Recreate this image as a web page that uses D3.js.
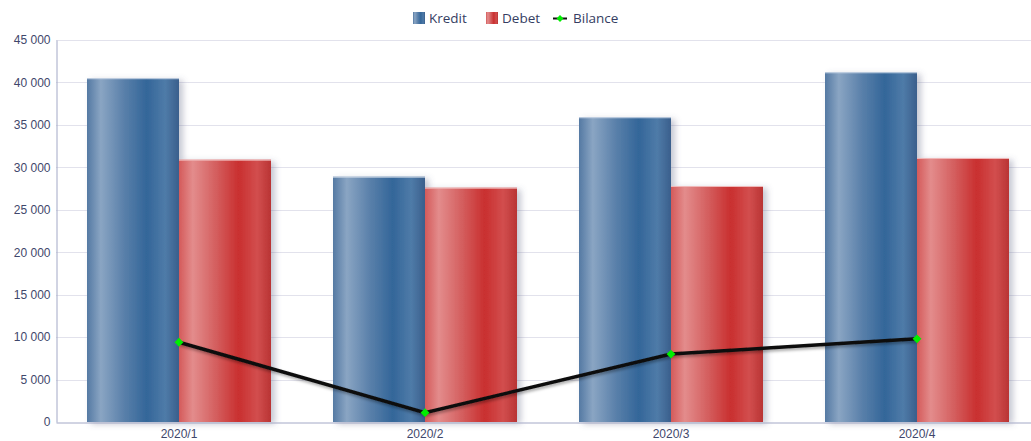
<!DOCTYPE html>
<html>
<head>
<meta charset="utf-8">
<script src="https://cdn.jsdelivr.net/npm/d3@7"></script>
<style>
  body { margin: 0; background: #fff; }
  svg { display: block; font-family: "Open Sans", "Noto Sans", sans-serif; }
  .tick text { fill: #3f476b; font-size: 12px; }
  .legend text { fill: #353d62; font-size: 13.5px; }
</style>
</head>
<body>
<svg width="1031" height="441"></svg>
<script>
'use strict';

const categories = ["2020/1", "2020/2", "2020/3", "2020/4"];
const kredit = [40500, 28900, 35900, 41200];
const debet = [30900, 27600, 27800, 31100];
const bilance = [9400, 1100, 8000, 9800];
const yTicks = [0, 5000, 10000, 15000, 20000, 25000, 30000, 35000, 40000, 45000];

const svg = d3.select('svg');
const margin = {top: 40, left: 56, bottom: 422, right: 1040};

const x = d3.scaleBand().domain(categories).range([margin.left, margin.right]);
const y = d3.scaleLinear().domain([0, 45000]).range([margin.bottom, margin.top]);

const fmt = v => d3.format(",")(v).replace(/,/g, " ");

const defs = svg.append('defs');

// cylinder-like horizontal gradients
function addGradient(id, stops) {
  const g = defs.append('linearGradient').attr('id', id)
    .attr('x1', 0).attr('x2', 1).attr('y1', 0).attr('y2', 0);
  stops.forEach(([o, c]) => g.append('stop').attr('offset', o).attr('stop-color', c));
}
addGradient('gradBlue', [[0, '#5479a3'], [0.15, '#8aa5c3'], [0.4, '#5a80aa'], [0.65, '#336699'], [0.85, '#4f7ba8'], [1, '#3a5f8c']]);
addGradient('gradRed', [[0, '#d45a5a'], [0.15, '#e38c8c'], [0.4, '#d45f5f'], [0.65, '#c92f2f'], [0.85, '#d24e4e'], [1, '#b93434']]);

const shadow = defs.append('filter').attr('id', 'shadow')
  .attr('x', '-20%').attr('y', '-20%').attr('width', '160%').attr('height', '140%');
shadow.append('feDropShadow').attr('dx', 4).attr('dy', 2).attr('stdDeviation', 3)
  .attr('flood-color', '#5a6080').attr('flood-opacity', 0.35);

const lineShadow = defs.append('filter').attr('id', 'lineShadow')
  .attr('x', '-10%').attr('y', '-50%').attr('width', '120%').attr('height', '200%');
lineShadow.append('feDropShadow').attr('dx', 1).attr('dy', 2).attr('stdDeviation', 1.5)
  .attr('flood-color', '#000').attr('flood-opacity', 0.35);

/** grid */
svg.append('g').selectAll('line')
  .data(yTicks.filter(d => d > 0)).enter().append('line')
  .attr('x1', margin.left).attr('x2', margin.right)
  .attr('y1', d => Math.round(y(d)) + 0.5).attr('y2', d => Math.round(y(d)) + 0.5)
  .attr('stroke', '#e2e2ec').attr('stroke-width', 1);

/** bars */
const series = [
  {key: "kredit", values: kredit, fill: "url(#gradBlue)", edge: "#c9d6e6"},
  {key: "debet", values: debet, fill: "url(#gradRed)", edge: "#f0b8b8"}
];
const barW = 92;
const offset = (x.bandwidth() - 2 * barW) / 2;

series.forEach((s, si) => {
  const g = svg.append('g').attr('filter', 'url(#shadow)');
  g.selectAll('rect').data(s.values).enter().append('rect')
    .attr('x', (d, i) => x(categories[i]) + offset + si * barW)
    .attr('y', d => y(d))
    .attr('width', barW)
    .attr('height', d => y(0) - y(d))
    .attr('fill', s.fill);
  // thin light top edge
  svg.append('g').selectAll('line').data(s.values).enter().append('line')
    .attr('x1', (d, i) => x(categories[i]) + offset + si * barW)
    .attr('x2', (d, i) => x(categories[i]) + offset + (si + 1) * barW)
    .attr('y1', d => y(d) + 0.5).attr('y2', d => y(d) + 0.5)
    .attr('stroke', s.edge).attr('stroke-width', 1);
});

/** axes */
const yAxis = svg.append('g')
  .attr('transform', `translate(${margin.left + 0.5},0)`)
  .call(d3.axisLeft(y).tickValues(yTicks).tickFormat(fmt).tickSize(0).tickPadding(6));
yAxis.select('.domain').attr('stroke', '#a3a8c6');

const xAxis = svg.append('g')
  .attr('transform', `translate(0,${margin.bottom + 0.5})`)
  .call(d3.axisBottom(x).tickSize(0).tickPadding(7));
xAxis.select('.domain').attr('stroke', '#a3a8c6');

/** bilance line */
const line = d3.line()
  .x((d, i) => x(categories[i]) + x.bandwidth() / 2)
  .y(d => y(d));

svg.append('path')
  .datum(bilance)
  .attr('d', line)
  .attr('fill', 'none')
  .attr('stroke', '#111')
  .attr('stroke-width', 3.5)
  .attr('filter', 'url(#lineShadow)');

svg.append('g').selectAll('path')
  .data(bilance).enter().append('path')
  .attr('transform', (d, i) => `translate(${x(categories[i]) + x.bandwidth() / 2},${y(d)})`)
  .attr('d', d3.symbol(d3.symbolDiamond2 || d3.symbolDiamond, 50))
  .attr('fill', '#00ee00');

/** legend */
const legend = svg.append('g').classed('legend', true);
const items = [
  {name: "Kredit", x: 413, fill: "url(#gradBlue)"},
  {name: "Debet", x: 486, fill: "url(#gradRed)"},
  {name: "Bilance", x: 553, line: true}
];
items.forEach(it => {
  if (it.line) {
    legend.append('line').attr('x1', it.x).attr('x2', it.x + 14)
      .attr('y1', 18.5).attr('y2', 18.5).attr('stroke', '#111').attr('stroke-width', 2);
    legend.append('path').attr('transform', `translate(${it.x + 7},18.5)`)
      .attr('d', d3.symbol(d3.symbolDiamond2 || d3.symbolDiamond, 30)).attr('fill', '#00ee00');
    legend.append('text').attr('x', it.x + 20).attr('y', 23).text(it.name);
  } else {
    legend.append('rect').attr('x', it.x).attr('y', 12).attr('width', 12).attr('height', 12).attr('fill', it.fill);
    legend.append('text').attr('x', it.x + 16).attr('y', 23).text(it.name);
  }
});
</script>
</body>
</html>
